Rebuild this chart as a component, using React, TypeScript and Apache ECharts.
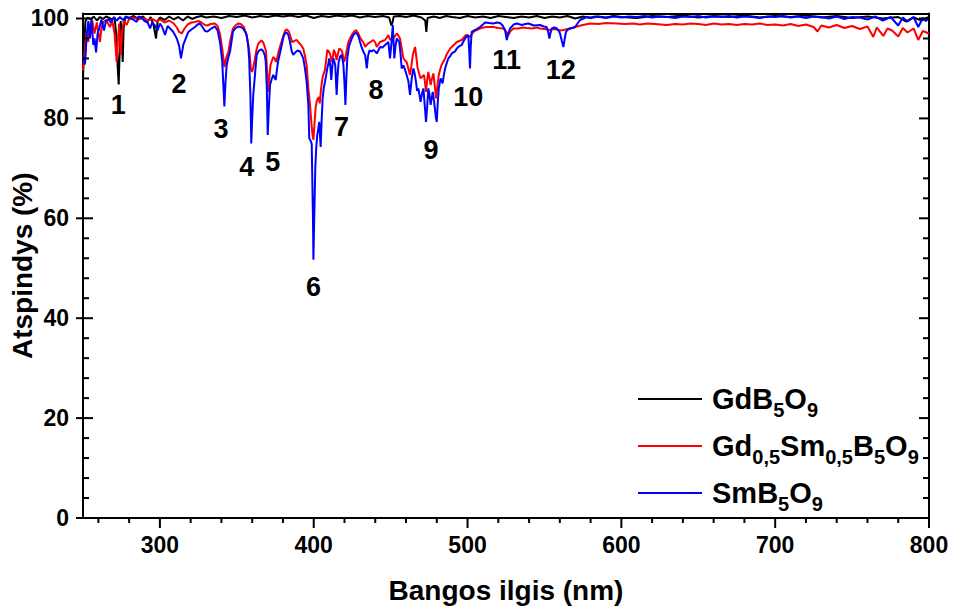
import React, { useEffect, useRef } from "react";
import * as echarts from "echarts";

// [wavelength nm, reflectance %]
const gdData: [number, number][] = [
  [250, 88], [250.8, 95], [251.6, 99.5], [253, 100.2], [255, 99.8], [257, 100.4], [259, 99.6], [261, 100.3],
  [263, 99.9], [265, 100.4], [267, 100.1], [269, 99.8], [270.5, 100.3], [271.8, 96], [272.6, 90], [273.2, 86.8],
  [273.8, 93], [274.5, 99.5], [275.3, 96], [275.8, 91.3], [276.4, 98], [277.5, 100.3], [280, 100.1], [283, 100.5],
  [286, 99.9], [289, 100.4], [292, 99.4], [294, 100.3], [296, 98.5], [297.5, 96], [298.5, 99.5], [300, 100.2],
  [303, 99.7], [306, 100.4], [309, 99.8], [312, 100.3], [315, 99.6], [318, 100.4], [321, 99.9], [324, 100.3],
  [327, 100.5], [330, 100.2], [335, 100.4], [340, 100.1], [345, 100.5], [350, 100.3], [355, 100.6], [360, 100.2],
  [365, 100.5], [370, 100.3], [375, 100.6], [380, 100.4], [385, 100.6], [390, 100.3], [395, 100.6], [400, 100.1],
  [405, 100.5], [410, 100.3], [415, 100.6], [420, 100.4], [425, 100.6], [430, 100.2], [435, 100.5], [440, 100.3],
  [445, 100.5], [449, 100.2], [450.5, 98.6], [451.2, 99.2], [452, 100.4], [456, 100.5], [460, 100.3], [465, 100.6],
  [470, 100.2], [472.5, 99.6], [473.2, 97.3], [474, 100.1], [478, 100.4], [482, 100.1], [486, 100.5], [490, 100.3],
  [495, 100.1], [500, 100.5], [505, 100.2], [510, 100.4], [515, 100.1], [520, 100.5], [525, 100.3], [530, 100.1],
  [535, 100.4], [540, 100.2], [545, 100.5], [550, 100.1], [555, 100.4], [560, 100.2], [565, 100.5], [570, 100],
  [575, 100.4], [580, 100.1], [585, 100.4], [590, 100.2], [595, 100.5], [600, 100.3], [610, 100.1], [620, 100.5],
  [630, 100.3], [640, 100.6], [650, 100.2], [660, 100.5], [670, 100.3], [680, 100.6], [690, 100.2], [700, 100.5],
  [710, 100.3], [720, 100.6], [730, 100.2], [740, 100.5], [750, 100.1], [760, 100.4], [770, 100], [780, 100.3],
  [785, 99.4], [790, 100.2], [795, 99.6], [800, 100.3],
];

const mixData: [number, number][] = [
  [250, 89.6], [251, 93], [252, 97], [253.4, 95.3], [254.5, 98.5], [256, 99.6], [257.5, 97], [259, 99.2],
  [261, 95.3], [262, 98], [263.2, 99.3], [265, 99.7], [267.6, 98.3], [269, 99.6], [270.5, 97], [271.9, 91.3],
  [272.8, 96], [273.5, 99], [274.5, 92.7], [275.5, 97.5], [276.5, 99.5], [278.4, 98.7], [280, 99.9], [283, 100.2],
  [286, 99.8], [289, 100.1], [292, 99.6], [295, 99.9], [298, 99.4], [300, 99.8], [303, 99.2], [306, 99.6],
  [309, 99], [311, 98.2], [312.5, 97.3], [314.2, 97], [316, 98], [318, 98.8], [320.5, 99.2], [322.8, 99.3],
  [325, 99.5], [327, 99.2], [329.3, 98.7], [331, 98.6], [333, 98.9], [335.8, 99], [337.5, 98.5], [339, 97],
  [340.5, 94], [341.9, 90.3], [343, 92], [344.5, 93.3], [346, 96], [347.5, 98], [349, 98.6], [350.8, 99],
  [352.5, 98.9], [354.6, 98.3], [356, 97], [357.2, 95.3], [358.3, 93], [359.1, 90], [360, 89.3], [360.7, 90.2],
  [361.8, 92], [362.9, 93.9], [364, 95], [365, 95.3], [366, 95.6], [367, 95.3], [368, 94.5], [369, 93.4],
  [369.8, 89], [370.4, 85.3], [371.2, 88.5], [371.9, 90.7], [372.8, 91.5], [373.7, 92.3], [374.6, 92], [375.4, 91.3],
  [376.3, 92.2], [377.2, 93.4], [378.3, 94.6], [379.4, 95.7], [380.5, 96.8], [381.7, 97.7], [382.8, 97.8], [383.9, 97.3],
  [385, 96.3], [386, 95.3], [387.5, 95.5], [388.8, 95.7], [389.9, 95.3], [391.5, 94.8], [393.2, 94], [394.3, 92.5],
  [395.4, 90.7], [396.5, 86], [397.5, 83], [398.5, 79], [399.1, 77], [399.8, 75.7], [400.5, 79], [401.3, 82.3],
  [402, 83.5], [402.7, 84], [403.3, 84.3], [403.9, 83], [404.8, 86], [405.8, 88.3], [406.5, 89], [407.3, 89.7],
  [408, 91.5], [408.8, 93.7], [409.6, 93.5], [410.5, 93], [411.2, 92.2], [411.8, 91.3], [412.5, 92.5], [413.1, 93.7],
  [414, 93], [414.9, 91.7], [415.8, 93], [416.6, 94], [417.5, 93.8], [418.4, 93.4], [419.1, 92.4], [419.7, 91.3],
  [420.3, 91.8], [420.9, 92.7], [421.7, 94], [422.5, 95.3], [423.6, 96], [424.7, 96.7], [426, 97.3], [427.5, 97.7],
  [428.8, 97.1], [430.1, 96.2], [431.4, 95.6], [432.7, 95], [433.4, 94.3], [434.5, 94.7], [435.4, 95], [437, 95.3],
  [438.8, 95.7], [440, 95.2], [441, 94.3], [442, 94.8], [443.1, 95.3], [444.7, 95.5], [446.4, 95.7], [447.5, 96.2],
  [448.5, 96.7], [449.6, 95.8], [450.7, 95.7], [452.4, 96.3], [454, 97], [455, 96.6], [456.1, 96], [457.2, 94],
  [458.3, 92], [459.4, 91.6], [460.4, 91.3], [461.5, 90], [462.6, 88.7], [463.5, 90.5], [464.4, 92.7], [465.2, 93.6],
  [465.9, 94.3], [466.7, 92.3], [467.4, 90.3], [468.5, 89], [469.5, 88], [470.6, 88.4], [471.7, 88.7], [472.4, 87],
  [473, 85.3], [473.7, 87.5], [474.5, 89.3], [475.3, 88], [476, 86.7], [476.9, 88], [477.8, 89], [478.7, 86.5],
  [479.5, 84], [480.4, 86.4], [481.3, 88.7], [482.2, 89.8], [483.1, 90.7], [484.3, 91.4], [485.4, 92], [486.4, 92.8],
  [487.5, 93.4], [488.6, 93.9], [489.7, 94.3], [491.4, 94.8], [493, 95.3], [494.6, 95.5], [496.2, 95.7], [497.6, 96.2],
  [499, 96.7], [500.3, 96.5], [501.6, 96.3], [502.7, 96.8], [503.8, 97.3], [506, 97.7], [508.1, 98], [510.3, 98.2],
  [512.4, 98.3], [514.6, 98.3], [516.8, 98.3], [520, 98.1], [523.3, 98], [525, 97.4], [526.5, 96.7], [528, 97.5],
  [529.8, 98], [533, 98], [536, 98.2], [538.5, 98.1], [542, 98], [545, 98.2], [547.1, 98], [550, 97.9],
  [553.6, 97.7], [556, 97.9], [558, 97.8], [560, 97.6], [562.3, 97.7], [565, 97.9], [568, 98.1], [571, 98.4],
  [575, 98.7], [579.7, 99], [585, 98.9], [590, 99.1], [597, 99], [602, 98.9], [607.9, 99], [612, 98.8],
  [617, 99], [622, 98.9], [629.5, 98.7], [635, 98.9], [640, 98.8], [645, 99], [650, 98.9], [655, 98.7],
  [660, 99], [665, 98.8], [670, 98.9], [675, 98.7], [680, 98.9], [685, 98.8], [690, 99], [695, 98.7],
  [700, 98.8], [705, 98.6], [710, 98.9], [715, 98.5], [720, 98.8], [725, 98.3], [727.5, 97.4], [730, 98.6],
  [735, 98.2], [740, 98.7], [745, 98.1], [750, 98.5], [755, 97.9], [760, 98.4], [763.8, 96.3], [766, 98.2],
  [770.3, 96.5], [773, 98], [776, 97.6], [780, 96.4], [783, 98.1], [786, 97.2], [790, 98], [793, 95.7],
  [796, 97.5], [800, 97],
];

const smData: [number, number][] = [
  [250, 92.5], [251.3, 90.8], [252.5, 97], [253.5, 99.5], [254.5, 96], [255.5, 99.8], [256.7, 94.7], [257.5, 96],
  [258.5, 93.2], [259.5, 97], [260.6, 98], [262, 99.8], [263.6, 97.6], [265, 99.6], [267, 99.8], [268, 99.2],
  [270, 100.2], [272, 99.6], [274, 100.3], [276, 99.7], [278, 100.4], [280, 100.1], [282, 99.9], [284.9, 99.3],
  [286, 100.4], [288, 100.2], [290, 99.5], [292, 99.2], [293.6, 98], [295, 99.3], [297, 98.5], [298.5, 97.6],
  [300, 99], [301.5, 98.3], [303.3, 96.7], [305, 98.5], [306.6, 98], [308.5, 97.4], [311, 96], [312.5, 94.5],
  [313.7, 92], [315.2, 94.7], [316.8, 96], [318.5, 97.3], [320.5, 97.8], [322.8, 98.3], [324.5, 98.8], [326, 99],
  [327.5, 98.4], [329.3, 97.5], [331, 97.4], [333, 97.9], [335.8, 98.4], [337.5, 97.6], [339, 95.4], [340.5, 91.5],
  [341.9, 82.4], [342.6, 87], [343.4, 90.7], [344.5, 92.2], [345.6, 93.4], [347.5, 97.4], [349, 98], [350.8, 98.4],
  [352.5, 98.3], [354, 98], [355.5, 97.3], [356.4, 96.7], [357.4, 94.5], [358, 92], [358.8, 85], [359.4, 75],
  [360, 80], [360.7, 84.7], [361.8, 88.7], [362.9, 92.7], [364, 93.4], [365, 93.7], [366.2, 93.8], [367.2, 93.4],
  [368.2, 92.6], [368.8, 91.4], [369.5, 86], [370.1, 76.7], [370.8, 82], [371.6, 86.7], [372.6, 87.8], [373.7, 88.7],
  [374.5, 88.2], [375.3, 87.7], [376, 89.5], [376.8, 91.4], [378, 93], [379.2, 94.7], [380.2, 96.2], [381.3, 97],
  [382.4, 97.2], [383.5, 96.7], [384.6, 95.3], [385.7, 93.4], [386.7, 92.7], [388, 93.2], [389.5, 93.6], [391.1, 93.4],
  [392.2, 92.7], [393.2, 92], [394.3, 90], [395.4, 87.3], [396.5, 82.7], [397.1, 76], [398.2, 75.4], [398.7, 74.8],
  [399.5, 60], [399.8, 51.7], [400.2, 58], [401, 70], [401.6, 74], [402.3, 76.7], [403, 78], [403.6, 79.3],
  [404.5, 74.3], [405.2, 80], [405.8, 84], [406.5, 86], [407.3, 87.3], [408, 88.5], [408.8, 90], [409.5, 91],
  [410.1, 92], [410.8, 90.5], [411.4, 87.7], [412, 90], [412.7, 92], [413.3, 91.5], [414, 90.7], [414.9, 84.7],
  [415.5, 88.5], [416.2, 91.3], [417.2, 92.4], [418.2, 92.7], [419.3, 90.7], [420, 87], [420.6, 82.7], [421.2, 88],
  [421.8, 92], [423, 94.5], [424.7, 96], [426, 96.8], [427.5, 97.2], [429, 96.5], [430.1, 95.3], [431.2, 94.2],
  [432.2, 93.4], [433.4, 92.7], [434.5, 90], [435.3, 92.5], [436.2, 93.6], [437.5, 93.4], [438.8, 93.7], [440, 93.4],
  [441, 93], [442, 93.6], [443.1, 94.3], [444.7, 94.2], [446.4, 94.7], [447.5, 95], [448.5, 95.3], [449.6, 92],
  [450.5, 95], [451.4, 98.7], [452.4, 92], [453.2, 94.5], [454, 96], [455.6, 95.3], [456.4, 93], [457.2, 90],
  [458.3, 90.6], [459.4, 89.7], [460.4, 88.7], [461.5, 87.5], [462.6, 84.7], [463.7, 88], [464.8, 90], [465.6, 89],
  [466.5, 87.3], [467.2, 85.5], [468, 86], [469.5, 83.3], [470.4, 85], [471.3, 86], [472.2, 82.5], [473, 79.3],
  [473.7, 82], [474.5, 86], [475.2, 85], [476, 82.7], [476.7, 84], [477.4, 85.3], [478.2, 83.5], [478.9, 81.6],
  [479.5, 80], [480, 79.3], [480.6, 83], [481.3, 86], [482.5, 88], [483.8, 87], [484.6, 88.7], [485.4, 90],
  [486.4, 91], [487.5, 92], [488.6, 92.4], [489.7, 93], [490.8, 93.2], [491.9, 93.4], [493, 94], [494, 94.3],
  [495.1, 94.5], [496.2, 94.7], [497.3, 95.4], [498.4, 96], [499.5, 96.4], [500.5, 96.7], [501, 94], [501.6, 90],
  [502.1, 94.5], [502.7, 97.3], [504.9, 97.7], [506.5, 98], [508.1, 98.3], [510, 98.8], [511.4, 99.2], [514, 99.1],
  [516.8, 99], [519, 99.2], [521.1, 99.1], [522.8, 98.6], [524.4, 97.7], [525.5, 95.7], [526.5, 97], [527.6, 98],
  [530, 98.8], [532, 99], [535.3, 98.7], [537.5, 98.9], [539.7, 99], [543, 98.6], [547.1, 98.7], [549.5, 98.4],
  [551.4, 98.3], [552.3, 97.5], [553.2, 96], [554, 97.2], [554.7, 98], [556.5, 98.2], [558, 98], [559.2, 97.6],
  [560.1, 97], [561.3, 95.5], [562.3, 94.3], [563.2, 96], [564, 97.3], [565.3, 97.8], [566.6, 98], [568.2, 98.1],
  [569.9, 98.3], [571.5, 99], [573.1, 99.7], [575.3, 100], [577.5, 100.3], [580, 100.2], [583, 100.4], [586.2, 100.3],
  [590, 100.1], [595, 100.4], [600, 100.2], [605, 100.4], [610, 100.3], [615, 100.5], [620, 100.2], [625, 100.4],
  [630, 100.3], [635, 100.1], [640, 100.4], [645, 100.3], [650, 100.5], [655, 100.2], [660, 100.4], [665, 100.3],
  [670, 100.5], [675, 100.2], [680, 100.4], [685, 100.3], [690, 100.1], [695, 100.4], [700, 100.3], [705, 100.5],
  [710, 100.2], [715, 100.4], [720, 100.1], [725, 100.4], [730, 100.3], [735, 100], [740, 100.4], [745, 99.9],
  [750, 100.3], [755, 100.2], [760, 99.8], [765, 100.4], [770, 99.6], [775, 100.3], [780, 98.6], [783, 100.2],
  [786, 99.4], [790, 100.3], [793, 98.3], [796, 100.1], [798, 99.5], [800, 100.2],
];

const peakLabels = ["1", "2", "3", "4", "5", "6", "7", "8", "9", "10", "11", "12"];
const peakX = [273, 312.4, 339.7, 356.4, 373.3, 399.8, 418.1, 440.5, 476.3, 500.5, 525.4, 560.6];
const peakY = [82.7, 86.8, 77.9, 70.3, 71.3, 46.3, 78.3, 85.7, 73.6, 84.3, 91.6, 89.6];

const xMajorTicks = [300, 400, 500, 600, 700, 800];
const xMinorTicks = [260, 280, 320, 340, 360, 380, 420, 440, 460, 480, 520, 540, 560, 580, 620, 640, 660, 680, 720, 740, 760, 780];
const yMajorTicks = [0, 20, 40, 60, 80, 100];
const yMinorTicks = [4, 8, 12, 16, 24, 28, 32, 36, 44, 48, 52, 56, 64, 68, 72, 76, 84, 88, 92, 96];

const seriesNames = ["GdB5O9", "Gd0,5Sm0,5B5O9", "SmB5O9"];
const seriesColors = ["#000000", "#ff0000", "#0000ff"];
const legendRich: Record<string, string> = {
  "GdB5O9": "{m|GdB}{s|5}{m|O}{s|9}",
  "Gd0,5Sm0,5B5O9": "{m|Gd}{s|0,5}{m|Sm}{s|0,5}{m|B}{s|5}{m|O}{s|9}",
  "SmB5O9": "{m|SmB}{s|5}{m|O}{s|9}",
};

// tick marks as rectangular scatter symbols; (dx, dy) is the centre offset in pixels
function tickSeries(name: string, data: number[][], w: number, h: number, dx: number, dy: number) {
  return {
    type: "scatter",
    name,
    xAxisIndex: 0,
    yAxisIndex: 0,
    silent: true,
    clip: false,
    data,
    symbol: "rect",
    symbolSize: [w, h],
    symbolOffset: [dx, dy],
    itemStyle: { color: "#000000", opacity: 1 },
    z: 20,
  };
}

export default function App() {
  const ref = useRef<HTMLDivElement>(null);
  useEffect(() => {
    const chart = echarts.init(ref.current!, null, { renderer: "svg" });
    const font = '"Liberation Sans", Arial, sans-serif';
    const black = "#000";
    const lineStyle = { color: black, width: 2 };
    const xBase = { type: "value", min: 250, max: 800, splitLine: { show: false }, axisTick: { show: false } };
    const yBase = { type: "value", min: 0, max: 101, splitLine: { show: false }, axisTick: { show: false } };
    const noLabel = { show: false };

    chart.setOption({
      animation: false,
      backgroundColor: "#fff",
      grid: { left: 83, right: 26, top: 13.5, bottom: 91, containLabel: false, outerBoundsMode: "none" },
      xAxis: [
        {
          ...xBase,
          position: "bottom",
          name: "Bangos ilgis (nm)",
          nameLocation: "middle",
          nameGap: 58,
          nameMoveOverlap: false,
          nameTextStyle: { fontFamily: font, fontWeight: "bold", fontSize: 28, color: black },
          axisLine: { show: true, onZero: false, lineStyle },
          axisLabel: { show: true, customValues: xMajorTicks, margin: 15, fontFamily: font, fontWeight: "bold", fontSize: 23, color: black },
        },
        {
          ...xBase,
          position: "top",
          axisLine: { show: true, onZero: false, lineStyle },
          axisLabel: noLabel,
        },
      ],
      yAxis: [
        {
          ...yBase,
          position: "left",
          name: "Atspindys (%)",
          nameLocation: "middle",
          nameGap: 47,
          nameMoveOverlap: false,
          nameTextStyle: { fontFamily: font, fontWeight: "bold", fontSize: 28, color: black },
          axisLine: { show: true, onZero: false, lineStyle },
          axisLabel: { show: true, customValues: yMajorTicks, margin: 14, fontFamily: font, fontWeight: "bold", fontSize: 23, color: black },
        },
        {
          ...yBase,
          position: "right",
          axisLine: { show: true, onZero: false, lineStyle },
          axisLabel: noLabel,
        },
      ],
      legend: {
        data: seriesNames,
        orient: "vertical",
        left: 638,
        top: 378,
        padding: 0,
        itemWidth: 64,
        itemHeight: 14,
        itemGap: 5,
        icon: "path://M0,0 L64,0 L64,2 L0,2 Z",
        formatter: (name: string) => legendRich[name],
        textStyle: {
          padding: [0, 0, 0, 5],
          rich: {
            m: { fontFamily: font, fontWeight: "bold", fontSize: 29, color: black, lineHeight: 34 },
            s: { fontFamily: font, fontWeight: "bold", fontSize: 20, color: black, lineHeight: 34, padding: [22, 0, 0, 0] },
          },
        },
      },
      series: [
        ...[gdData, mixData, smData].map((d, i) => ({
          type: "line",
          name: seriesNames[i],
          data: d,
          xAxisIndex: 0,
          yAxisIndex: 0,
          symbol: "none",
          showSymbol: false,
          color: seriesColors[i],
          lineStyle: { color: seriesColors[i], width: 2 },
          itemStyle: { color: seriesColors[i] },
          z: 2 + i,
        })),
        tickSeries("xMajorTicks", xMajorTicks.map((v) => [v, 0]), 2, 10, 0, 5),
        tickSeries("xMinorTicks", xMinorTicks.map((v) => [v, 0]), 2, 5, 0, 2.5),
        tickSeries("leftMajorTicks", yMajorTicks.map((v) => [250, v]), 17, 2, 1.5, 0),
        tickSeries("leftMinorTicks", yMinorTicks.map((v) => [250, v]), 6, 2, 3, 0),
        tickSeries("rightMajorTicks", yMajorTicks.map((v) => [800, v]), 10, 2, -5, 0),
        tickSeries("rightMinorTicks", yMinorTicks.map((v) => [800, v]), 6, 2, -3, 0),
        {
          type: "custom",
          name: "peaks",
          xAxisIndex: 0,
          yAxisIndex: 0,
          silent: true,
          clip: false,
          encode: { x: 0, y: 1 },
          data: peakX.map((x, i) => [x, peakY[i], i]),
          renderItem: (_params: any, api: any) => {
            const p = api.coord([api.value(0), api.value(1)]);
            return {
              type: "text",
              x: p[0],
              y: p[1],
              style: {
                text: peakLabels[api.value(2)],
                fill: "#000",
                font: `bold 27px ${font}`,
                align: "center",
                verticalAlign: "middle",
              },
            };
          },
          z: 21,
        },
      ],
    });

    return () => chart.dispose();
  }, []);
  return <div ref={ref} style={{ position: "fixed", left: 0, top: 0, width: 955, height: 609 }} />;
}
